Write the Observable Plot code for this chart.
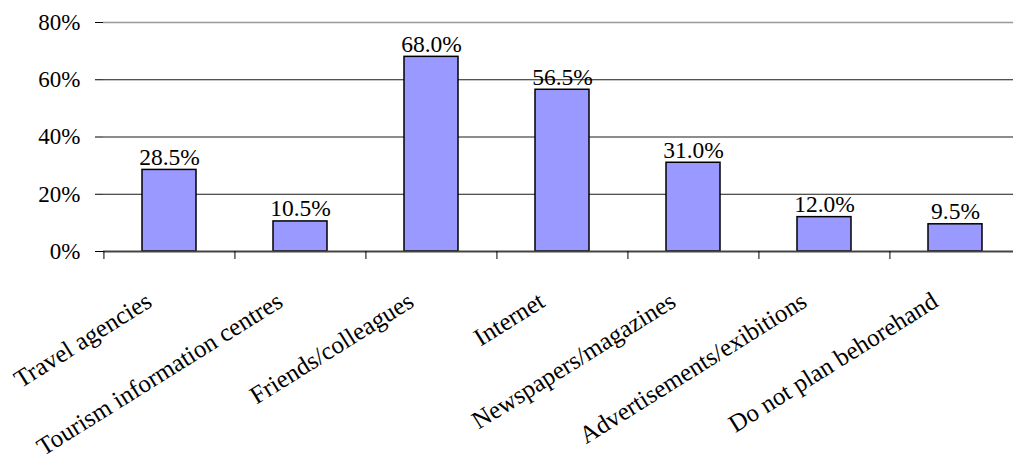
<!DOCTYPE html>
<html>
<head>
<meta charset="utf-8">
<script src="https://cdn.jsdelivr.net/npm/d3@7"></script>
<script src="https://cdn.jsdelivr.net/npm/@observablehq/plot@0.6"></script>
<style>
  html, body { margin: 0; padding: 0; background: #fff; overflow: hidden; }
  #chart { width: 1013px; height: 466px; overflow: hidden; }
  #chart svg, #chart svg text { font-family: "Liberation Serif", "Times New Roman", "DejaVu Serif", serif !important; }
</style>
</head>
<body>
<div id="chart"></div>
<script>
const categories = [
  "Travel agencies",
  "Tourism information centres",
  "Friends/colleagues",
  "Internet",
  "Newspapers/magazines",
  "Advertisements/exibitions",
  "Do not plan behorehand"
];
const values = [28.5, 10.5, 68.0, 56.5, 31.0, 12.0, 9.5];
const yTicks = [0, 20, 40, 60, 80];

const data = categories.map((c, i) => ({category: c, value: values[i]}));

const FONT = "Liberation Serif";
const W = 1013, H = 466;
const mL = 103, mR = -8, mT = 22, mB = 215;
const step = (W - mR - mL) / categories.length;

const chart = Plot.plot({
  width: W,
  height: H,
  marginLeft: mL,
  marginRight: mR,
  marginTop: mT,
  marginBottom: mB,
  style: {fontFamily: FONT, fontSize: "23px", color: "#000", background: "#fff"},
  x: {domain: categories, axis: null, paddingInner: 0.588, paddingOuter: 0.294},
  y: {domain: [0, 80], axis: null},
  marks: [
    Plot.ruleY([20, 40, 60], {stroke: "#1a1a1a", strokeWidth: 1}),
    Plot.ruleY([80], {stroke: "#999", strokeWidth: 1.5}),
    Plot.barY(data, {x: "category", y: "value", fill: "#9999ff", stroke: "#000", strokeWidth: 1.5}),
    Plot.ruleY([0], {stroke: "#444", strokeWidth: 2}),
    Plot.ruleX(categories, {x: d => d, y1: 0, y2: 0, insetBottom: -8, dx: -step / 2, stroke: "#000", strokeWidth: 1}),
    Plot.axisY({ticks: yTicks, tickFormat: d => d + "%", label: null, tickSize: 8, tickPadding: 15, stroke: "#000", fontSize: 23, fontFamily: FONT}),
    Plot.ruleX([0], {frameAnchor: "left", stroke: "#000", strokeWidth: 1.5}),
    Plot.text(data, {x: "category", y: "value", text: d => d.value.toFixed(1) + "%", lineAnchor: "bottom", dy: -5, fontSize: 23.5, fontFamily: FONT, fill: "#000"}),
    Plot.text(categories, {x: d => d, frameAnchor: "bottom", text: d => d, rotate: -32, textAnchor: "end", lineAnchor: "bottom", dx: -16, dy: 54, fontSize: 25, fontFamily: FONT, fill: "#000"})
  ]
});
document.getElementById("chart").appendChild(chart);
</script>
</body>
</html>
